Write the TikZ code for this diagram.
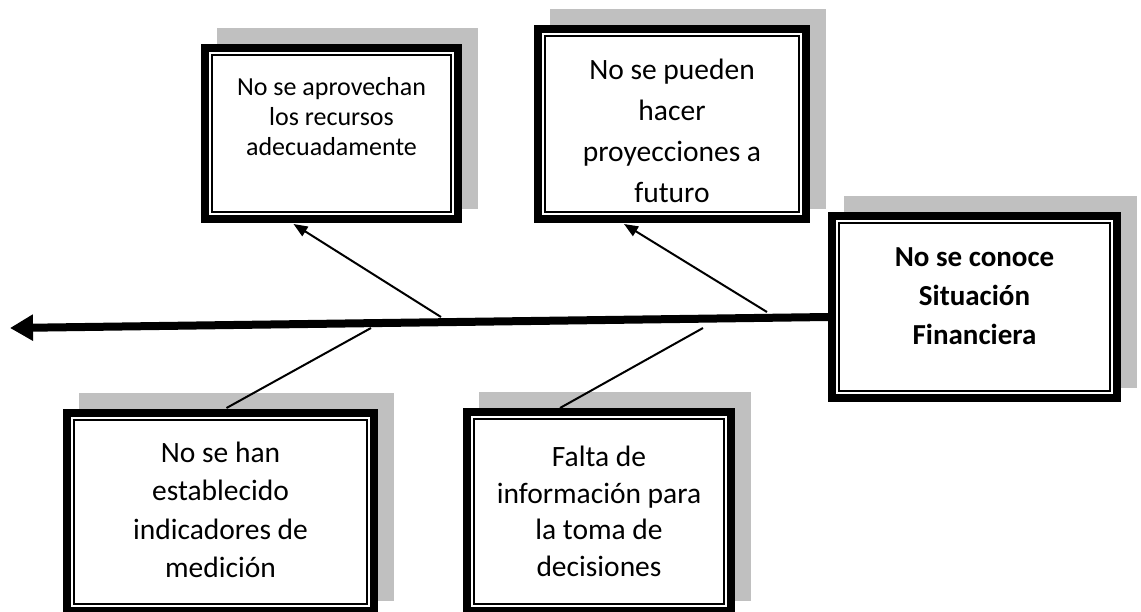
\documentclass[tikz,border=0pt]{standalone}
\usepackage{fontspec}
\setmainfont{Carlito}
\usepackage{tikz}
\usetikzlibrary{arrows.meta,calc,positioning}
\definecolor{shadowgray}{RGB}{192,192,192}

\begin{document}
\begin{tikzpicture}[x=1pt,y=-1pt,
  causebox/.style={draw,line width=8pt,fill=white,inner sep=0pt},
  causetext/.style={align=center,inner sep=0pt},
  spine/.style={line width=8pt,-{Triangle[length=23pt,width=25pt]}},
  branch/.style={line width=2pt}]
  \clip (0,0) rectangle (1141,611);
  \foreach \n/\l/\t/\r/\b in {a/201/44/462/223,b/534/25/810/223,c/828/212/1121/402,d/63/409/378/615,e/463/408/735/615}{
    \fill[shadowgray] (\l+16,\t-16) rectangle (\r+16,\b-14);
    \node[causebox,minimum width=\r-\l-8,minimum height=\b-\t-8] (\n) at ({(\l+\r)/2},{(\t+\b)/2}) {};
    \draw[line width=1.8pt] ($(\n.north west)+(11,11)$) rectangle ($(\n.south east)+(-11,-11)$);
  }
  \foreach \n/\dy/\fs/\sk/\f/\txt in {a/17/26/30/\mdseries/{No se aprovechan\\los recursos\\adecuadamente},
      b/-6.5/29.5/41/\mdseries/{No se pueden\\hacer\\proyecciones a\\futuro},
      c/10.5/29/39/\bfseries/{No se conoce\\Situación\\Financiera},
      d/2/29.5/38.5/\mdseries/{No se han\\establecido\\indicadores de\\medición},
      e/0/29.5/36.5/\mdseries/{Falta de\\información para\\la toma de\\decisiones}}{
    \node[causetext,font=\fontsize{\fs}{\sk}\selectfont\f,yshift=\dy pt] (t\n) at (\n) {\txt};
  }
  \coordinate (tail) at (10,328);
  \coordinate (s1) at (441,317);
  \coordinate (s2) at (767,312);
  \coordinate (s3) at (371,328);
  \coordinate (s4) at (703,328);
  \draw[spine] ([yshift=-10pt]c.west) -- (tail);
  \draw[branch,-{Triangle[length=14pt,width=11pt]}] (s1) -- ([xshift=-38pt,yshift=-1pt]a.south);
  \draw[branch,-{Triangle[length=14pt,width=11pt]}] (s2) -- ([xshift=-48pt,yshift=-1pt]b.south);
  \draw[branch] (s3) -- ([xshift=6pt,yshift=1pt]d.north);
  \draw[branch] (s4) -- ([xshift=-39pt]e.north);
\end{tikzpicture}
\end{document}
